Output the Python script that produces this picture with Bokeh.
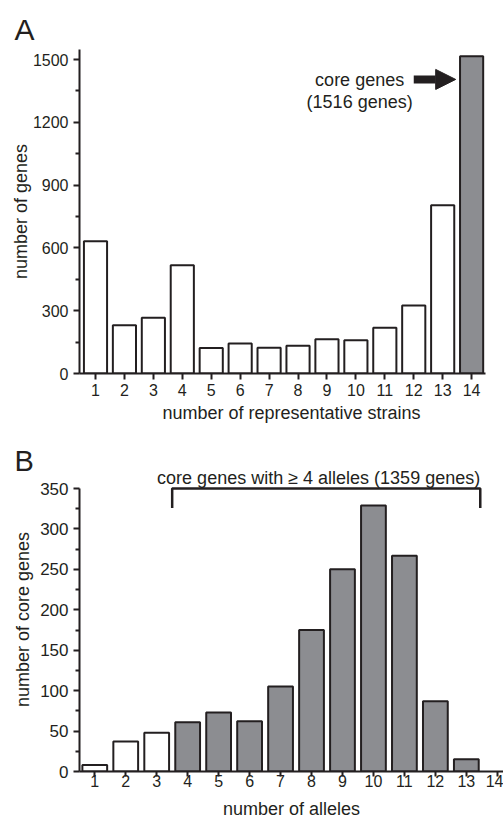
from bokeh.plotting import figure
from bokeh.models import ColumnDataSource, Label, Arrow, NormalHead, FixedTicker, Title
from bokeh.layouts import column
from bokeh.embed import file_html
from bokeh.resources import INLINE

# ---------------- data ----------------
# Panel A: number of genes vs number of representative strains
strains = [1, 2, 3, 4, 5, 6, 7, 8, 9, 10, 11, 12, 13, 14]
genes_per_strain = [632, 231, 266, 517, 122, 143, 123, 132, 164, 159, 218, 325, 804, 1516]
a_yticks = [0, 300, 600, 900, 1200, 1500]
a_yminor = [150, 450, 750, 1050, 1350]
core_label = ["core genes", "(1516 genes)"]

# Panel B: number of core genes vs number of alleles
alleles = [1, 2, 3, 4, 5, 6, 7, 8, 9, 10, 11, 12, 13]
core_genes_per_allele = [8, 37, 48, 61, 73, 62, 105, 175, 250, 329, 267, 87, 15]
b_xticks = [1, 2, 3, 4, 5, 6, 7, 8, 9, 10, 11, 12, 13, 14]
b_yticks = [0, 50, 100, 150, 200, 250, 300, 350]
b_yminor = [25, 75, 125, 175, 225, 275, 325]
bracket_label = "core genes with \u2265 4 alleles (1359 genes)"

# ---------------- style ----------------
INK = "#231f20"
GREY = "#8c8d91"
FONT = "Liberation Sans"
LABEL_FS = "18px"


def style_axes(p, xlabel, ylabel, tick_fs):
    for ax in (p.xaxis[0], p.yaxis[0]):
        ax.axis_line_color = INK
        ax.axis_line_width = 2
        ax.major_tick_line_color = INK
        ax.major_tick_line_width = 2
        ax.major_tick_in = 0
        ax.major_tick_out = 6
        ax.minor_tick_line_color = INK
        ax.minor_tick_line_width = 2
        ax.minor_tick_in = 0
        ax.minor_tick_out = 4
        ax.major_label_text_font = FONT
        ax.major_label_text_font_size = tick_fs
        ax.major_label_text_color = INK
        ax.axis_label_text_font = FONT
        ax.axis_label_text_font_size = LABEL_FS
        ax.axis_label_text_font_style = "normal"
        ax.axis_label_text_color = INK
    p.xaxis.axis_label = xlabel
    p.yaxis.axis_label = ylabel
    p.xgrid.grid_line_color = None
    p.ygrid.grid_line_color = None
    p.outline_line_color = None
    p.background_fill_color = "white"
    p.border_fill_color = "white"


def panel_title(p, letter, size, standoff):
    t = Title(text=letter, align="left", offset=-65, text_font=FONT,
              text_font_size=size, text_font_style="normal", text_color=INK)
    try:
        t.standoff = standoff
    except Exception:
        t.standoff = 0
    p.title = t


# ---------------- panel A ----------------
a_xmin, a_xmax = 0.447, 14.48
pA = figure(width=503, height=427, x_range=(a_xmin, a_xmax + 18 / 28.93), y_range=(0, 1548),
            output_backend="svg", toolbar_location=None,
            min_border_left=79, min_border_right=0, min_border_top=49, min_border_bottom=54)
srcA = ColumnDataSource(dict(
    x=strains, top=genes_per_strain,
    color=[GREY if s == max(strains) else "white" for s in strains]))
pA.vbar(x="x", top="top", bottom=0, width=0.8, source=srcA,
        fill_color="color", line_color=INK, line_width=2)
style_axes(pA, "number of representative strains", "number of genes", "16px")
pA.xaxis.ticker = FixedTicker(ticks=strains)
pA.xaxis.bounds = (a_xmin, a_xmax)
pA.xaxis.major_label_standoff = 4
pA.xaxis.axis_label_standoff = 4
pA.yaxis.ticker = FixedTicker(ticks=a_yticks, minor_ticks=a_yminor)
pA.yaxis.major_label_standoff = 5
pA.yaxis.axis_label_standoff = -1
panel_title(pA, "A", "30px", 7)

pA.add_layout(Label(x=10.13, y=1401, text=core_label[0], text_font=FONT,
                    text_font_size=LABEL_FS, text_color=INK, text_align="center",
                    text_baseline="alphabetic"))
pA.add_layout(Label(x=10.13, y=1296, text=core_label[1], text_font=FONT,
                    text_font_size=LABEL_FS, text_color=INK, text_align="center",
                    text_baseline="alphabetic"))
pA.add_layout(Arrow(x_start=12.0, y_start=1405, x_end=13.45, y_end=1405,
                    line_color=INK, line_width=8,
                    end=NormalHead(size=20, fill_color=INK, line_color=INK, line_width=1)))

# ---------------- panel B ----------------
pB = figure(width=503, height=394, x_range=(0.507, 14.2), y_range=(0, 376),
            output_backend="svg", toolbar_location=None,
            min_border_left=79, min_border_right=0, min_border_top=40, min_border_bottom=50)
srcB = ColumnDataSource(dict(
    x=alleles, top=core_genes_per_allele,
    color=[GREY if a >= 4 else "white" for a in alleles]))
pB.vbar(x="x", top="top", bottom=0, width=0.8, source=srcB,
        fill_color="color", line_color=INK, line_width=2)
style_axes(pB, "number of alleles", "number of core genes", "17px")
pB.xaxis.ticker = FixedTicker(ticks=b_xticks)
pB.xaxis.major_label_text_font_size = "16px"
pB.xaxis.major_tick_out = 5
pB.xaxis.major_label_standoff = -2
pB.xaxis.axis_label_standoff = 9
pB.yaxis.ticker = FixedTicker(ticks=b_yticks, minor_ticks=b_yminor)
pB.yaxis.bounds = (0, 350)
pB.yaxis.major_label_standoff = 5
pB.yaxis.axis_label_standoff = 4
panel_title(pB, "B", "29px", -18)

b_start = 4 - 0.5
b_end = alleles[-1] + 0.45
b_top = b_yticks[-1]
pB.line(x=[b_start, b_start, b_end, b_end], y=[b_top - 24, b_top, b_top, b_top - 24],
        line_color=INK, line_width=2.5)
pB.add_layout(Label(x=8.23, y=363, text=bracket_label, text_font=FONT,
                    text_font_size=LABEL_FS, text_color=INK, text_align="center",
                    text_baseline="alphabetic"))

layout = column(pA, pB, spacing=0)
open("out.html", "w").write(file_html(layout, INLINE))
